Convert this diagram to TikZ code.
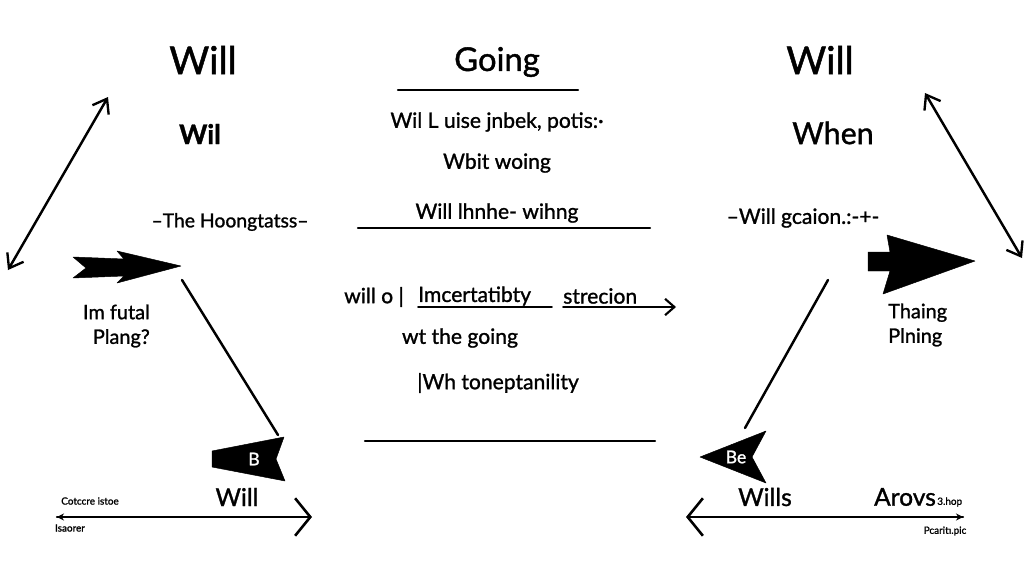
\documentclass[tikz,border=0pt]{standalone}
\usepackage{fontspec}
\setmainfont{Lato}[FakeBold=1.2]
\newfontfamily\medfont{Lato}[FakeBold=1.2]
\usetikzlibrary{arrows.meta}
\tikzset{
  px/.style={x=0.03cm,y=-0.03cm},
  ln/.style={line width=2.1pt,line cap=round},
  thin/.style={line width=1.6pt,line cap=round},
  bigbarb/.style={-{Straight Barb[length=13pt,width=32pt,line width=2.2pt]}},
  dbarb/.style={{Straight Barb[length=11pt,width=16pt,line width=2pt]}-{Straight Barb[length=11pt,width=16pt,line width=2pt]}},
  smallhead/.style={-{Stealth[length=6pt,width=6pt]}},
  fill black/.style={fill=black,draw=black,line join=round},
  txt/.style={inner sep=0pt,text=black},
  huge/.style={txt,font=\medfont\fontsize{33}{36}\selectfont},
  bighead/.style={txt,font=\medfont\fontsize{28}{32}\selectfont},
  medbold/.style={txt,font=\bfseries\fontsize{23}{26}\selectfont},
  mid/.style={txt,font=\medfont\fontsize{18}{21}\selectfont},
  small/.style={txt,font=\medfont\fontsize{16.5}{19}\selectfont},
  lab/.style={txt,font=\medfont\fontsize{17}{21}\selectfont},
  tiny/.style={txt,font=\medfont\fontsize{8.5}{10}\selectfont},
  inv/.style={txt,text=white,font=\medfont\fontsize{15}{18}\selectfont},
}
\begin{document}
\begin{tikzpicture}[px]
\useasboundingbox (0,0) rectangle (1024,585);
\fill[white] (0,0) rectangle (1024,585);

% ---------------- left column ----------------
\node[huge] (lwill) at (203,60) {Will};
\node[medbold] (lwil) at (200,134) {Wil};
\coordinate (lda1) at (108,97);
\coordinate (lda2) at (8,270);
\draw[ln,dbarb] (lda1) -- (lda2);
\node[small] (lhoong) at (230,222) {–The Hoongtatss–};

% big black notched arrow (left)
\fill[fill black] (73,257) -- (124,259) -- (117,251) -- (181,266) -- (117,283) -- (124,276) -- (73,278) -- (86,268) -- cycle;
\node[lab,align=right,anchor=east] (lfutal) at (150,326) {Im futal\\Plang?};

\coordinate (lline1) at (182,280);
\coordinate (lline2) at (278,435);
\draw[ln] (lline1) -- (lline2);

% black flag B
\fill[fill black] (212,451) -- (284,437) -- (276,459) -- (285,481) -- (212,467) -- cycle;
\node[inv] (lb) at (254,459) {B};
\node[lab,font=\medfont\fontsize{21}{24}\selectfont] (lwill2) at (237,497) {Will};

\coordinate (lba1) at (57,517);
\coordinate (lba2) at (312,517);
\draw[ln,bigbarb] (lba1) -- (lba2);
\draw[thin,smallhead] (82,517) -- (lba1);
\node[tiny] (lcot) at (90,501) {Cotccre istoe};
\node[tiny] (lisa) at (70,528) {Isaorer};

% ---------------- centre column ----------------
\node[bighead] (going) at (497,62) {Going};
\coordinate (cl1a) at (398,90);
\coordinate (cl1b) at (578,90);
\draw[ln] (cl1a) -- (cl1b);
\node[mid] (c1) at (497,122) {Wil L uise jnbek, potis:·};
\node[mid] (c2) at (497,163) {Wbit woing};
\node[mid] (c3) at (497,213) {Will lhnhe- wihng};
\coordinate (cl2a) at (358,228);
\coordinate (cl2b) at (650,228);
\draw[ln] (cl2a) -- (cl2b);

\node[mid,anchor=west] (c4a) at (344,297) {will o |};
\node[mid,anchor=west] (c4b) at (418,296) {Imcertatibty};
\node[mid,anchor=west] (c4c) at (563,296) {strecion};
\coordinate (c4u1) at (418,307);
\coordinate (c4u2) at (552,307);
\draw[thin] (c4u1) -- (c4u2);
\coordinate (c4arr1) at (563,307);
\coordinate (c4arr2) at (676,307);
\draw[thin,-{Straight Barb[length=8pt,width=14pt,line width=1.8pt]}] (c4arr1) -- (c4arr2);
\node[mid] (c5) at (460,338) {wt the going};
\node[mid] (c6) at (498,383) {|Wh toneptanility};
\coordinate (cl3a) at (365,441);
\coordinate (cl3b) at (655,441);
\draw[ln] (cl3a) -- (cl3b);

% ---------------- right column ----------------
\node[huge] (rwill) at (820,60) {Will};
\node[bighead,font=\medfont\fontsize{26}{30}\selectfont] (rwhen) at (833,133) {When};
\coordinate (rda1) at (925,93);
\coordinate (rda2) at (1022,258);
\draw[ln,dbarb] (rda1) -- (rda2);
\node[small,font=\medfont\fontsize{18}{21}\selectfont] (rgca) at (803,218) {–Will gcaion.:-+-};

% big black arrow (right)
\fill[fill black] (868,252) -- (890,252) -- (887,235) -- (975,261) -- (883,294) -- (890,271) -- (868,271) -- cycle;
\node[lab,align=left,anchor=west] (rthaing) at (888,325) {Thaing\\Plning};

\coordinate (rline1) at (828,280);
\coordinate (rline2) at (745,428);
\draw[ln] (rline1) -- (rline2);

% black arrow Be
\fill[fill black] (700,457) -- (766,431) -- (752,457) -- (766,483) -- cycle;
\node[inv] (rbe) at (736,457) {Be};
\node[lab,font=\medfont\fontsize{21}{24}\selectfont] (rwills) at (765,497) {Wills};
\node[lab,font=\medfont\fontsize{21}{24}\selectfont] (rarovs) at (905,497) {Arovs};
\node[tiny,anchor=west] (rshop) at (937,502) {3.hop};

\coordinate (rba1) at (963,517);
\coordinate (rba2) at (686,517);
\draw[ln,bigbarb] (rba1) -- (rba2);
\draw[thin,smallhead] (940,517) -- (rba1);
\node[tiny] (rpca) at (945,531) {Pcaritı.pic};
\end{tikzpicture}
\end{document}
